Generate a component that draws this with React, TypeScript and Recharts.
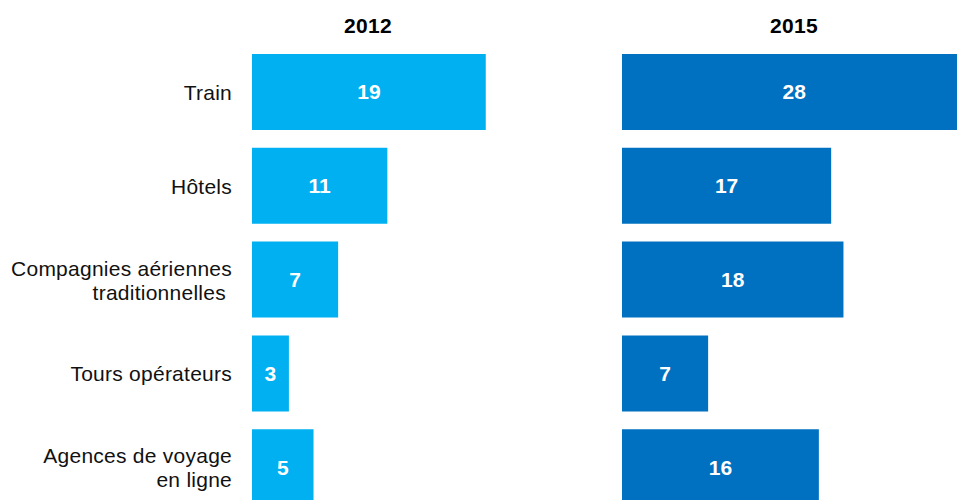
import { BarChart, Bar, XAxis, YAxis, LabelList } from "recharts";

const categories = [
  "Train",
  "Hôtels",
  "Compagnies aériennes\ntraditionnelles\u00a0",
  "Tours opérateurs",
  "Agences de voyage\nen ligne",
];
const values2012 = [19, 11, 7, 3, 5];
const values2015 = [28, 17, 18, 7, 16];
const years = ["2012", "2015"];

const FONT = "'Liberation Sans', Arial, sans-serif";
const LIGHT = "#00B0F0";
const DARK = "#0070C0";

const data = categories.map((name, i) => ({
  name,
  y2012: values2012[i],
  y2015: values2015[i],
}));

const CHART_H = 520;
const MARGIN = { top: 45, right: 0, bottom: 6, left: 0 };
const PLOT_W = 344.5;
const AXIS_W = 252;

// eslint-disable-next-line @typescript-eslint/no-explicit-any
function CategoryTick(props: any) {
  const { x, y, payload } = props;
  const lines: string[] = String(payload.value).split("\n");
  const lh = 24;
  const start = y - ((lines.length - 1) * lh) / 2 + 8;
  return (
    <text
      x={x}
      y={start}
      textAnchor="end"
      fill="#111"
      fontSize={21}
      letterSpacing={0.25}
      fontFamily={FONT}
    >
      {lines.map((l, i) => (
        <tspan key={i} x={x} y={start + i * lh}>
          {l}
        </tspan>
      ))}
    </text>
  );
}

const titleStyle = {
  position: "absolute" as const,
  top: 15,
  width: 120,
  textAlign: "center" as const,
  fontFamily: FONT,
  fontSize: 21,
  letterSpacing: 0.3,
  lineHeight: "21px",
  fontWeight: 700,
  color: "#000",
};

const valueLabel = {
  fill: "#fff",
  fontSize: 21,
  fontWeight: 700,
  fontFamily: FONT,
};

export default function App() {
  return (
    <div
      style={{
        position: "absolute",
        left: 0,
        top: 0,
        width: 957,
        height: 500,
        overflow: "hidden",
        background: "#fff",
      }}
    >
      <div style={{ ...titleStyle, left: 368 - 60 }}>{years[0]}</div>
      <div style={{ ...titleStyle, left: 794 - 60 }}>{years[1]}</div>

      {/* 2012 panel with category axis */}
      <div style={{ position: "absolute", left: 0, top: 0 }}>
        <BarChart
          width={AXIS_W + PLOT_W}
          height={CHART_H}
          data={data}
          layout="vertical"
          margin={MARGIN}
        >
          <XAxis type="number" domain={[0, 28]} hide allowDataOverflow />
          <YAxis
            type="category"
            dataKey="name"
            width={AXIS_W}
            axisLine={false}
            tickLine={false}
            tickSize={0}
            tickMargin={20}
            interval={0}
            tick={<CategoryTick />}
          />
          <Bar dataKey="y2012" fill={LIGHT} barSize={76} isAnimationActive={false}>
            <LabelList dataKey="y2012" position="center" {...valueLabel} />
          </Bar>
        </BarChart>
      </div>

      {/* 2015 panel */}
      <div style={{ position: "absolute", left: 622, top: 0 }}>
        <BarChart
          width={PLOT_W}
          height={CHART_H}
          data={data}
          layout="vertical"
          margin={MARGIN}
        >
          <XAxis type="number" domain={[0, 28]} hide allowDataOverflow />
          <YAxis type="category" dataKey="name" hide />
          <Bar dataKey="y2015" fill={DARK} barSize={76} isAnimationActive={false}>
            <LabelList dataKey="y2015" position="center" {...valueLabel} />
          </Bar>
        </BarChart>
      </div>
    </div>
  );
}
